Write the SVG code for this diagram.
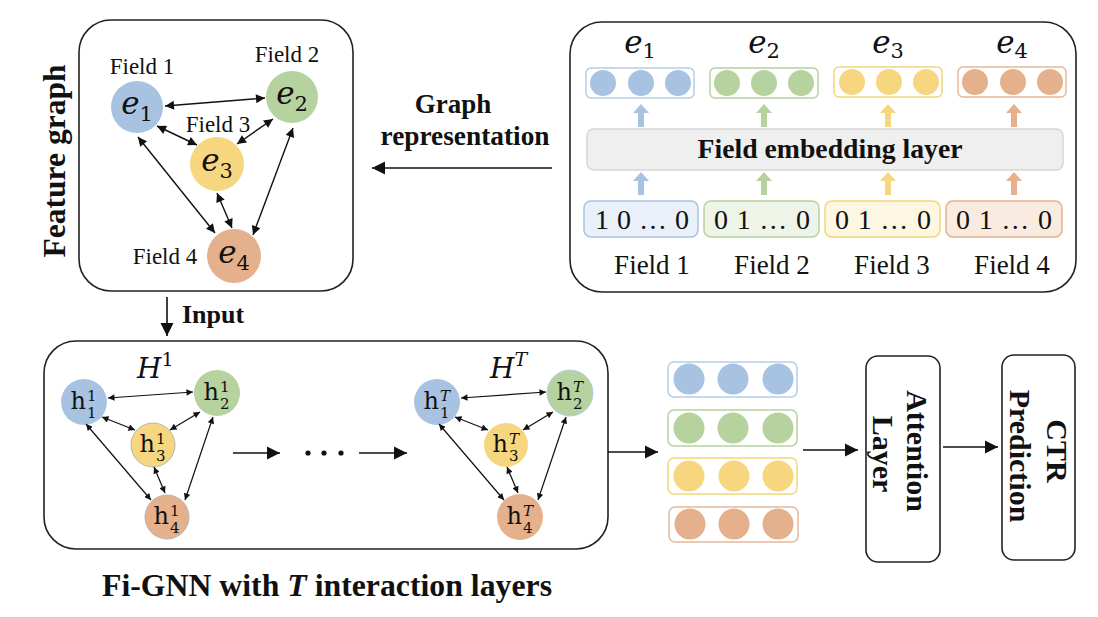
<svg xmlns="http://www.w3.org/2000/svg" width="1098" height="617" viewBox="0 0 1098 617">
<style>
.box{fill:none;stroke:#222;stroke-width:1.6}
.lbl{font-family:"Liberation Serif","Times New Roman",serif;fill:#111}
.b{font-weight:bold}
.m{font-family:"DejaVu Serif","Liberation Serif",serif;font-style:italic;fill:#111}
.hu{font-family:"DejaVu Serif","Liberation Serif",serif;fill:#111}
.e{stroke:#111;stroke-width:1.4;fill:none;marker-start:url(#ah);marker-end:url(#ah)}
.es{stroke:#111;stroke-width:1.2;fill:none;marker-start:url(#as);marker-end:url(#as)}
.f{stroke:#111;stroke-width:1.6;fill:none;marker-end:url(#ab)}
.cb{fill:#a8c2e2}.cg{fill:#b6d29e}.cy{fill:#f6d77f}.co{fill:#e5b18c}
.vb{fill:#fff;stroke:#b3cdea;stroke-width:1.5}.vg{fill:#fff;stroke:#b6d29e;stroke-width:1.5}
.vy{fill:#fff;stroke:#f4d67a;stroke-width:1.5}.vo{fill:#fff;stroke:#e8b898;stroke-width:1.5}
.ob{fill:#e9f0fa;stroke:#a8c2e2;stroke-width:1.5}.og{fill:#eef4e8;stroke:#b6d29e;stroke-width:1.5}
.oy{fill:#fdf6e0;stroke:#f4d67a;stroke-width:1.5}.oo{fill:#faebe1;stroke:#e5b18c;stroke-width:1.5}
</style>
<defs>
<marker id="ah" viewBox="0 0 10 10" refX="10" refY="5" markerWidth="11" markerHeight="9" markerUnits="userSpaceOnUse" orient="auto-start-reverse"><path d="M0,0 L10,5 L0,10 z" fill="#111"/></marker>
<marker id="as" viewBox="0 0 10 10" refX="10" refY="5" markerWidth="8" markerHeight="6.5" markerUnits="userSpaceOnUse" orient="auto-start-reverse"><path d="M0,0 L10,5 L0,10 z" fill="#111"/></marker>
<marker id="ab" viewBox="0 0 10 10" refX="10" refY="5" markerWidth="13" markerHeight="14" markerUnits="userSpaceOnUse" orient="auto"><path d="M0,0 L10,5 L0,10 z" fill="#111"/></marker>
</defs>
<rect width="1098" height="617" fill="#fff"/>

<!-- Feature graph -->
<g id="feature-graph">
<rect class="box" x="79" y="20" width="274" height="271" rx="32"/>
<text class="lbl b" font-size="31" transform="translate(65,161) rotate(-90)" text-anchor="middle" textLength="193" lengthAdjust="spacingAndGlyphs">Feature graph</text>
<g id="fg-e1"><circle class="cb" cx="137" cy="107" r="26"/><text class="m" font-size="31" x="137" y="114" text-anchor="middle">e<tspan font-style="normal" font-size="21" dy="7">1</tspan></text><text class="lbl" font-size="23" x="142" y="74" text-anchor="middle">Field 1</text></g>
<g id="fg-e2"><circle class="cg" cx="292" cy="97" r="26"/><text class="m" font-size="31" x="292" y="104" text-anchor="middle">e<tspan font-style="normal" font-size="21" dy="7">2</tspan></text><text class="lbl" font-size="23" x="287" y="62" text-anchor="middle">Field 2</text></g>
<g id="fg-e3"><circle class="cy" cx="217" cy="164" r="27"/><text class="m" font-size="31" x="217" y="171" text-anchor="middle">e<tspan font-style="normal" font-size="21" dy="7">3</tspan></text><text class="lbl" font-size="23" x="218" y="132" text-anchor="middle">Field 3</text></g>
<g id="fg-e4"><circle class="co" cx="234" cy="256" r="27"/><text class="m" font-size="31" x="234" y="263" text-anchor="middle">e<tspan font-style="normal" font-size="21" dy="7">4</tspan></text><text class="lbl" font-size="23" x="165" y="264" text-anchor="middle">Field 4</text></g>
</g>

<!-- Field embedding -->
<g id="field-embedding">
<rect class="box" x="570" y="22" width="506" height="270" rx="32"/>
<g id="emb-out">
<text class="m" font-size="31" x="640" y="53" text-anchor="middle">e<tspan font-style="normal" font-size="21" dy="5">1</tspan></text>
<text class="m" font-size="31" x="764" y="53" text-anchor="middle">e<tspan font-style="normal" font-size="21" dy="5">2</tspan></text>
<text class="m" font-size="31" x="888" y="53" text-anchor="middle">e<tspan font-style="normal" font-size="21" dy="5">3</tspan></text>
<text class="m" font-size="31" x="1012" y="53" text-anchor="middle">e<tspan font-style="normal" font-size="21" dy="5">4</tspan></text>
<rect class="vb" x="586" y="68" width="108" height="30" rx="5"/>
<circle class="cb" cx="603" cy="83" r="13"/><circle class="cb" cx="641" cy="83" r="13"/><circle class="cb" cx="678" cy="83" r="13"/>
<rect class="vg" x="710" y="68" width="108" height="30" rx="5"/>
<circle class="cg" cx="727" cy="83" r="13"/><circle class="cg" cx="764" cy="83" r="13"/><circle class="cg" cx="801" cy="83" r="13"/>
<rect class="vy" x="834" y="67" width="108" height="30" rx="5"/>
<circle class="cy" cx="852" cy="82" r="13"/><circle class="cy" cx="889" cy="82" r="13"/><circle class="cy" cx="926" cy="82" r="13"/>
<rect class="vo" x="958" y="67" width="108" height="30" rx="5"/>
<circle class="co" cx="975" cy="82" r="13"/><circle class="co" cx="1013" cy="82" r="13"/><circle class="co" cx="1050" cy="82" r="13"/>
</g>
<g id="emb-arrows">
<path class="cb" d="M641,104 L649,113 L644,113 L644,127 L638,127 L638,113 L633,113 Z"/>
<path class="cg" d="M764,104 L772,113 L767,113 L767,127 L761,127 L761,113 L756,113 Z"/>
<path class="cy" d="M888,104 L896,113 L891,113 L891,127 L885,127 L885,113 L880,113 Z"/>
<path class="co" d="M1014,104 L1022,113 L1017,113 L1017,127 L1011,127 L1011,113 L1006,113 Z"/>
<path class="cb" d="M641,172 L649,181 L644,181 L644,195 L638,195 L638,181 L633,181 Z"/>
<path class="cg" d="M764,172 L772,181 L767,181 L767,195 L761,195 L761,181 L756,181 Z"/>
<path class="cy" d="M888,172 L896,181 L891,181 L891,195 L885,195 L885,181 L880,181 Z"/>
<path class="co" d="M1014,172 L1022,181 L1017,181 L1017,195 L1011,195 L1011,181 L1006,181 Z"/>
</g>
<g id="emb-layer">
<rect x="587" y="129" width="476" height="41" rx="7" fill="#efefef" stroke="#d6d6d6" stroke-width="1.5"/>
<text class="lbl b" font-size="28" x="830" y="158" text-anchor="middle" textLength="265" lengthAdjust="spacingAndGlyphs">Field embedding layer</text>
</g>
<g id="onehot">
<rect class="ob" x="584" y="201" width="114" height="36" rx="7"/>
<rect class="og" x="704" y="201" width="115" height="36" rx="7"/>
<rect class="oy" x="825" y="201" width="115" height="36" rx="7"/>
<rect class="oo" x="946" y="201" width="116" height="36" rx="7"/>
<text class="lbl" font-size="28" x="642" y="229" text-anchor="middle" fill="#222" textLength="94">1 0 … 0</text>
<text class="lbl" font-size="28" x="762" y="229" text-anchor="middle" fill="#222" textLength="96">0 1 … 0</text>
<text class="lbl" font-size="28" x="883" y="229" text-anchor="middle" fill="#222" textLength="96">0 1 … 0</text>
<text class="lbl" font-size="28" x="1004" y="229" text-anchor="middle" fill="#222" textLength="96">0 1 … 0</text>
<text class="lbl" font-size="27" x="652" y="274" text-anchor="middle">Field 1</text>
<text class="lbl" font-size="27" x="772" y="274" text-anchor="middle">Field 2</text>
<text class="lbl" font-size="27" x="892" y="274" text-anchor="middle">Field 3</text>
<text class="lbl" font-size="27" x="1012" y="274" text-anchor="middle">Field 4</text>
</g>
</g>

<!-- Fi-GNN -->
<g id="fignn">
<rect class="box" x="44" y="341" width="564" height="208" rx="32"/>
<text class="lbl b" font-size="31" x="102" y="596" textLength="450" lengthAdjust="spacingAndGlyphs">Fi-GNN with <tspan font-style="italic">T</tspan> interaction layers</text>
<g id="H1">
<text class="m" font-size="28" x="137" y="378">H<tspan font-style="normal" font-size="19" dy="-12">1</tspan></text>
<g id="h1-1"><circle class="cb" cx="84" cy="402" r="23"/><text class="hu" font-size="24" x="86" y="409" text-anchor="end">h</text><text class="hu" font-size="15" x="87" y="401">1</text><text class="hu" font-size="15" x="87" y="418">1</text></g>
<g id="h1-2"><circle class="cg" cx="217" cy="393" r="23"/><text class="hu" font-size="24" x="219" y="400" text-anchor="end">h</text><text class="hu" font-size="15" x="220" y="392">1</text><text class="hu" font-size="15" x="220" y="409">2</text></g>
<g id="h1-3"><circle class="cy" cx="153" cy="445" r="22" stroke="#b5b5b5" stroke-width="1"/><text class="hu" font-size="24" x="155" y="452" text-anchor="end">h</text><text class="hu" font-size="15" x="156" y="444">1</text><text class="hu" font-size="15" x="156" y="461">3</text></g>
<g id="h1-4"><circle class="co" cx="167" cy="517" r="22" stroke="#b5b5b5" stroke-width="1"/><text class="hu" font-size="24" x="169" y="524" text-anchor="end">h</text><text class="hu" font-size="15" x="170" y="516">1</text><text class="hu" font-size="15" x="170" y="533">4</text></g>
</g>
<g id="HT">
<text class="m" font-size="28" x="490" y="378">H<tspan font-size="19" dy="-12">T</tspan></text>
<g id="hT-1"><circle class="cb" cx="437" cy="402" r="23"/><text class="hu" font-size="24" x="439" y="409" text-anchor="end">h</text><text class="m" font-size="15" x="440" y="401">T</text><text class="hu" font-size="15" x="440" y="418">1</text></g>
<g id="hT-2"><circle class="cg" cx="570" cy="393" r="23" stroke="#b3cdea" stroke-width="1"/><text class="hu" font-size="24" x="572" y="400" text-anchor="end">h</text><text class="m" font-size="15" x="573" y="392">T</text><text class="hu" font-size="15" x="573" y="409">2</text></g>
<g id="hT-3"><circle class="cy" cx="506" cy="445" r="22"/><text class="hu" font-size="24" x="508" y="452" text-anchor="end">h</text><text class="m" font-size="15" x="509" y="444">T</text><text class="hu" font-size="15" x="509" y="461">3</text></g>
<g id="hT-4"><circle class="co" cx="520" cy="517" r="23"/><text class="hu" font-size="24" x="522" y="524" text-anchor="end">h</text><text class="m" font-size="15" x="523" y="516">T</text><text class="hu" font-size="15" x="523" y="533">4</text></g>
</g>
<g id="dots" fill="#111"><circle cx="308" cy="453" r="2.6"/><circle cx="324" cy="453" r="2.6"/><circle cx="341" cy="453" r="2.6"/></g>
</g>

<!-- Vector stack -->
<g id="vectors">
<rect class="vb" x="668" y="362" width="129" height="35" rx="6"/>
<circle class="cb" cx="689" cy="379" r="15.5"/><circle class="cb" cx="733" cy="379" r="15.5"/><circle class="cb" cx="778" cy="379" r="15.5"/>
<rect class="vg" x="668" y="410" width="129" height="36" rx="6"/>
<circle class="cg" cx="689" cy="428" r="15.5"/><circle class="cg" cx="733" cy="428" r="15.5"/><circle class="cg" cx="778" cy="428" r="15.5"/>
<rect class="vy" x="668" y="458" width="129" height="36" rx="6"/>
<circle class="cy" cx="689" cy="476" r="15.5"/><circle class="cy" cx="734" cy="476" r="15.5"/><circle class="cy" cx="778" cy="476" r="15.5"/>
<rect class="vo" x="669" y="507" width="129" height="35" rx="6"/>
<circle class="co" cx="690" cy="524" r="15.5"/><circle class="co" cx="734" cy="524" r="15.5"/><circle class="co" cx="778" cy="524" r="15.5"/>
</g>

<g id="attention">
<rect class="box" x="866" y="356" width="74" height="206" rx="12"/>
<text class="lbl b" font-size="30" transform="translate(907,451) rotate(90)" text-anchor="middle">Attention</text>
<text class="lbl b" font-size="30" transform="translate(873,454) rotate(90)" text-anchor="middle">Layer</text>
</g>
<g id="ctr">
<rect class="box" x="1002" y="355" width="73" height="205" rx="12"/>
<text class="lbl b" font-size="30" transform="translate(1047,451) rotate(90)" text-anchor="middle">CTR</text>
<text class="lbl b" font-size="30" transform="translate(1010,456) rotate(90)" text-anchor="middle">Prediction</text>
</g>

<g id="labels">
<text class="lbl b" font-size="27" x="453" y="113" text-anchor="middle">Graph</text>
<text class="lbl b" font-size="27" x="465" y="145" text-anchor="middle" textLength="169" lengthAdjust="spacingAndGlyphs">representation</text>
<text class="lbl b" font-size="26" x="182" y="323">Input</text>
</g>

<g id="connectors">
<path class="e" d="M165,106 L265,98"/>
<path class="e" d="M157,126 L197,145"/>
<path class="e" d="M273,119 L237,144"/>
<path class="e" d="M138,137 L215,233"/>
<path class="e" d="M217,193 L232,228"/>
<path class="e" d="M293,128 L253,235"/>
<path class="es" d="M108,398 L193,392"/>
<path class="es" d="M102,417 L135,430"/>
<path class="es" d="M200,412 L170,430"/>
<path class="es" d="M86,424 L151,500"/>
<path class="es" d="M154,467 L165,493"/>
<path class="es" d="M213,417 L185,500"/>
<path class="es" d="M461,398 L546,392"/>
<path class="es" d="M455,417 L488,430"/>
<path class="es" d="M553,412 L523,430"/>
<path class="es" d="M439,424 L504,500"/>
<path class="es" d="M507,467 L518,493"/>
<path class="es" d="M566,417 L538,500"/>
<path class="f" d="M552,168 L372,168" marker-end="url(#ah)"/>
<path class="f" d="M167,297 L167,336" marker-end="url(#ah)"/>
<path class="f" d="M233,453 L280,453"/>
<path class="f" d="M359,453 L407,453"/>
<path class="f" d="M608,452 L658,452" marker-end="url(#ah)"/>
<path class="f" d="M803,450 L858,450" marker-end="url(#ah)"/>
<path class="f" d="M943,447 L998,447" marker-end="url(#ah)"/>
</g>
</svg>
